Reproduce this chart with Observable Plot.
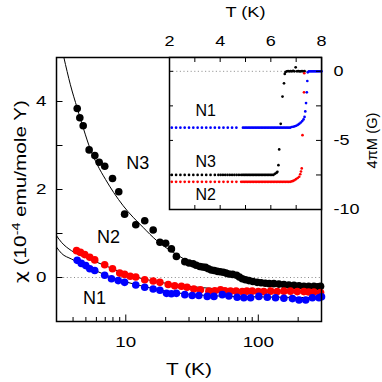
<!DOCTYPE html>
<html><head><meta charset="utf-8">
<script src="https://cdn.jsdelivr.net/npm/d3@7"></script>
<script src="https://cdn.jsdelivr.net/npm/@observablehq/plot@0.6"></script>
<style>
html,body{margin:0;padding:0;background:#fff;}
#wrap{position:relative;width:382px;height:382px;}
#wrap svg{position:absolute;left:0;top:0;}
</style></head><body><div id="wrap"></div>
<script>
// ---------- main panel: susceptibility chi (1e-4 emu/mole Y) vs T (K), log x ----------
const n3T   = [4.3,4.5,4.77,5.29,5.84,6.3,6.94,7.94,8.85,9.8,11.9,13.9,16.1,18.1,20.0,22.1,24.1,27.9,30,32.2,34,36.2,38,40,42,44.2,46.5,49,51.5,54.4,57,60,64,68.6,72,75.7,80,85,91,98,105,113,121,131,143,156,170,186,203,221,240,263,280,295];
const n3Chi = [3.84,3.63,3.45,2.90,2.77,2.62,2.53,2.25,1.95,1.44,1.20,1.29,1.08,0.80,0.78,0.65,0.48,0.36,0.33,0.31,0.28,0.25,0.24,0.23,0.20,0.17,0.16,0.14,0.13,0.12,0.10,0.08,0.07,0.05,0.01,-0.03,-0.05,-0.07,-0.09,-0.11,-0.12,-0.13,-0.14,-0.14,-0.15,-0.16,-0.17,-0.18,-0.19,-0.20,-0.20,-0.20,-0.21,-0.20];
const n2T   = [4.25,4.55,4.9,5.35,5.83,6.93,7.94,9.0,9.8,10.8,11.9,13.9,16.1,18.1,20.9,23.4,26.3,29,32.6,36.6,42.4,47,51.9,56,61.7,68,75.7,82,90,100,110,124,139,156,175,197,221,240,263,295];
const n2Chi = [0.61,0.57,0.52,0.46,0.40,0.29,0.20,0.10,0.07,0.03,0.01,-0.05,-0.08,-0.11,-0.16,-0.19,-0.20,-0.22,-0.26,-0.28,-0.31,-0.30,-0.28,-0.30,-0.31,-0.31,-0.32,-0.31,-0.31,-0.32,-0.32,-0.31,-0.32,-0.31,-0.31,-0.32,-0.32,-0.33,-0.33,-0.34];
const n1T   = [4.3,4.62,4.99,5.35,5.83,6.93,7.8,8.77,9.8,11.9,13.9,16.1,18.1,20.3,22.1,24.1,27.9,31.7,35.6,41.2,46.3,53.5,60,69.3,77.8,87.5,101,117,135,156,181,203,228,256,287,300];
const n1Chi = [0.39,0.32,0.27,0.20,0.16,0.05,-0.03,-0.07,-0.11,-0.17,-0.22,-0.26,-0.29,-0.36,-0.37,-0.36,-0.39,-0.41,-0.41,-0.43,-0.43,-0.39,-0.42,-0.45,-0.46,-0.46,-0.43,-0.45,-0.46,-0.47,-0.48,-0.51,-0.51,-0.46,-0.46,-0.44];
// fitted curves
const n3FitT = [3.41,3.82,4.3,4.82,5.41,6.08,7.03,8.11,9.56,13.5,17.1,22.8,28.7,40,60,100,200,300];
const n3FitY = [5.0,4.38,3.85,3.36,2.91,2.57,2.23,1.93,1.63,1.14,0.84,0.57,0.39,0.20,0.05,-0.07,-0.17,-0.20];
const n2FitT = [3,3.27,3.89,5,7,10,15,20,30,50,100,300];
const n2FitY = [0.95,0.80,0.61,0.45,0.27,0.08,-0.06,-0.13,-0.20,-0.26,-0.30,-0.33];
const n1FitT = [3,3.27,3.89,5,7,10,15,20,30,50,100,300];
const n1FitY = [0.69,0.55,0.42,0.26,0.06,-0.10,-0.23,-0.31,-0.38,-0.42,-0.44,-0.46];
const mainXTicksMajor = [10,100];
const mainXTicksMinor = [4,5,6,7,8,9,20,30,40,50,60,70,80,90,200];
const mainYTicks = [-1,0,1,2,3,4];
const mainYLabels = [0,2,4];
const mainNames = ["N3","N2","N1"];
const mainNameT = [12.3,7.4,5.8];
const mainNameY = [2.6,0.92,-0.47];

// ---------- inset: 4πM (G) vs T (K) ----------
const sweepSparse = [2.09,2.26,2.43,2.60,2.77,2.94,3.11,3.28,3.45,3.62,3.79,3.96,4.13,4.30,4.47,4.64,4.81];
const sweepDense  = [3.93,4.02,4.11,4.20,4.29,4.38,4.47,4.56,4.65,4.74,4.83,4.90,4.96,5.02,5.08,5.14,5.20,5.26,5.32,5.38,5.44,5.50,5.56,5.62,5.68,5.74,5.80,5.86,5.92,5.98,6.04,6.10,6.16,6.22,6.28,6.34,6.40,6.46,6.52,6.58,6.64,6.70,6.76];
// per series: flat level, sparse upper limit, dense range, and the transition tail
const n1Flat = -4.08, n1SparseMax = 4.65, n1Dense = [4.88, 6.76];
const n1TailT = [6.82,6.88,6.94,7.0,7.06,7.12,7.18,7.24,7.29,7.33,7.36,7.39,7.42,7.44,7.46,7.50,7.55,7.60,7.65,7.70,7.75,7.80,7.85,7.90,7.95,8.0];
const n1TailM = [-4.03,-4.01,-3.98,-3.94,-3.88,-3.81,-3.71,-3.6,-3.48,-3.3,-2.9,-2.3,-1.52,-0.7,-0.07,0,0,0,0,0,0,0,0,0,0,0];
const n3Flat = -7.5, n3SparseMax = 3.8, n3Dense = [3.9, 6.11];
const n3TailT = [6.16,6.22,6.26,6.30,6.33,6.39,6.46,6.52,6.55,6.58,6.63,6.68,6.73,6.78,6.83,6.88,6.93,6.98,7.03,7.08,7.13,7.18,7.23,7.28,7.33];
const n3TailM = [-7.42,-7.35,-7.27,-6.79,-5.65,-3.8,-1.83,-0.87,-0.19,-0.05,0,0.02,0,0.02,0,0.03,0,0.29,0,0.02,0,0,0.02,0,0.01];
const n2Flat = -8.0, n2SparseMax = 4.75, n2Dense = [4.8, 6.76];
const n2TailT = [6.82,6.88,6.94,7.0,7.06,7.12,7.16,7.19,7.22,7.25,7.31,7.32];
const n2TailM = [-7.97,-7.93,-7.87,-7.8,-7.72,-7.63,-7.45,-7.25,-7.03,-4.62,-1.52,-0.14];
const insetXTicks = [2,3,4,5,6,7,8];
const insetXLabels = [2,4,6,8];
const insetYTicks = [0,-2.5,-5,-7.5];
const insetYLabels = [0,-5,-10];
const insetNames = ["N1","N3","N2"];
const insetNameT = [3.43,3.43,3.43];
const insetNameM = [-2.87,-6.55,-8.95];

// ---------- build tables ----------
const zip = (xs, ys) => xs.map((x, i) => ({x, y: ys[i]}));
const mainN3 = zip(n3T, n3Chi), mainN2 = zip(n2T, n2Chi), mainN1 = zip(n1T, n1Chi);
const fit3 = zip(n3FitT, n3FitY), fit2 = zip(n2FitT, n2FitY), fit1 = zip(n1FitT, n1FitY);
const mainLab = mainNames.map((n, i) => ({n, x: mainNameT[i], y: mainNameY[i]}));
function sweep(flat, sparseMax, dense, tailT, tailM) {
  const pts = [];
  sweepSparse.filter(t => t <= sparseMax).forEach(t => pts.push({x: t, y: flat}));
  sweepDense.filter(t => t >= dense[0] && t <= dense[1]).forEach(t => pts.push({x: t, y: flat}));
  tailT.forEach((t, i) => pts.push({x: t, y: tailM[i]}));
  return pts;
}
const inN1 = sweep(n1Flat, n1SparseMax, n1Dense, n1TailT, n1TailM);
const inN3 = sweep(n3Flat, n3SparseMax, n3Dense, n3TailT, n3TailM);
const inN2 = sweep(n2Flat, n2SparseMax, n2Dense, n2TailT, n2TailM);
const inLab = insetNames.map((n, i) => ({n, x: insetNameT[i], y: insetNameM[i]}));

const FONT = "'Liberation Sans', Arial, Helvetica, sans-serif";
const hy = d => (d < 0 ? "-" + (-d) : String(d));
const C = {textAnchor: "middle", lineAnchor: "middle", fill: "black"};

// ---------- main plot ----------
const W = 382, H = 382;
const mL = 56, mR = 61, mT = 57, mB = 61;
const pw = W - mL - mR, ph = H - mT - mB;
const main = Plot.plot({
  width: W, height: H, marginLeft: mL, marginRight: mR, marginTop: mT, marginBottom: mB,
  style: {background: "transparent", fontFamily: FONT, fontSize: "15px", color: "black"},
  x: {type: "log", domain: [3, 300]},
  y: {domain: [-1, 5]},
  marks: [
    Plot.ruleY([0], {stroke: "#888", strokeWidth: 1, strokeDasharray: "1,2.6"}),
    Plot.line(fit3, {x: "x", y: "y", curve: "monotone-x", stroke: "black", strokeWidth: 1, clip: true}),
    Plot.line(fit2, {x: "x", y: "y", curve: "monotone-x", stroke: "black", strokeWidth: 1, clip: true}),
    Plot.line(fit1, {x: "x", y: "y", curve: "monotone-x", stroke: "black", strokeWidth: 1, clip: true}),
    Plot.dot(mainN3, {x: "x", y: "y", r: 3.8, fill: "black", stroke: "none"}),
    Plot.dot(mainN2, {x: "x", y: "y", r: 3.8, fill: "#ff0000", stroke: "none"}),
    Plot.dot(mainN1, {x: "x", y: "y", r: 3.8, fill: "#0000ff", stroke: "none"}),
    Plot.tickX(mainXTicksMajor, {x: d => d, insetTop: ph - 6.5, stroke: "black", strokeWidth: 1}),
    Plot.tickX(mainXTicksMinor, {x: d => d, insetTop: ph - 4, stroke: "black", strokeWidth: 1}),
    Plot.tickY(mainYTicks, {y: d => d, insetRight: pw - 6.5, stroke: "black", strokeWidth: 1}),
    Plot.frame({stroke: "black", strokeWidth: 1.5}),
    Plot.axisX({ticks: mainXTicksMajor, tickSize: 0, tickPadding: 15, tickFormat: d => String(d), label: null, fontSize: 15}),
    Plot.axisY({ticks: mainYLabels, tickSize: 0, tickPadding: 10, tickFormat: hy, label: null, fontSize: 15}),
    Plot.text(mainLab, {x: "x", y: "y", text: "n", fontSize: 18, ...C}),
    Plot.text(["T (K)"], {frameAnchor: "bottom", dy: 48, fontSize: 17, ...C, className: "xlab"}),
    Plot.text(["χ"], {frameAnchor: "left", dx: -36, dy: 2, rotate: -90, fontSize: 16, ...C, className: "ylab"})
  ]
});

// ---------- inset plot ----------
const iL = 169, iR = 61, iT = 57, iB = 173;
const iw = W - iL - iR, ih = H - iT - iB;
const inset = Plot.plot({
  width: W, height: H, marginLeft: iL, marginRight: iR, marginTop: iT, marginBottom: iB,
  style: {background: "transparent", fontFamily: FONT, fontSize: "15px", color: "black"},
  x: {domain: [2, 8]},
  y: {domain: [-10, 1]},
  marks: [
    Plot.frame({fill: "white", stroke: "none"}),
    Plot.ruleY([0], {stroke: "#999", strokeWidth: 1, strokeDasharray: "1.2,2.4"}),
    Plot.dot(inN3, {x: "x", y: "y", r: 1.35, fill: "black", stroke: "none"}),
    Plot.dot(inN2, {x: "x", y: "y", r: 1.35, fill: "#ff0000", stroke: "none"}),
    Plot.dot(inN1, {x: "x", y: "y", r: 1.35, fill: "#0000ff", stroke: "none"}),
    Plot.tickX(insetXTicks, {x: d => d, insetBottom: ih - 5, stroke: "black"}),
    Plot.tickX(insetXTicks, {x: d => d, insetTop: ih - 4, stroke: "black"}),
    Plot.tickY(insetYTicks, {y: d => d, insetLeft: iw - 5, stroke: "black"}),
    Plot.tickY(insetYTicks, {y: d => d, insetRight: iw - 4, stroke: "black"}),
    Plot.frame({stroke: "black", strokeWidth: 1.5}),
    Plot.axisX({anchor: "top", ticks: insetXLabels, tickSize: 0, tickPadding: 12, tickFormat: d => String(d), label: null, fontSize: 15}),
    Plot.axisY({anchor: "right", ticks: insetYLabels, tickSize: 0, tickPadding: 12, tickFormat: hy, label: null, fontSize: 15}),
    Plot.text(inLab, {x: "x", y: "y", text: "n", fontSize: 16, ...C}),
    Plot.text(["T (K)"], {frameAnchor: "top", dy: -45, fontSize: 15, ...C, className: "ixlab"}),
    Plot.text(["4πM (G)"], {frameAnchor: "right", dx: 51, dy: 7, rotate: -90, fontSize: 15, ...C, className: "iylab"})
  ]
});

const wrap = document.getElementById("wrap");
wrap.appendChild(main);
wrap.appendChild(inset);

// y label with superscript
const ylab = main.querySelector("g.ylab text");
if (ylab) {
  ylab.textContent = "";
  const ns = "http://www.w3.org/2000/svg";
  const z = document.createElementNS(ns, "tspan"); z.textContent = "χ"; z.setAttribute("font-family", "'DejaVu Sans', sans-serif");
  const a = document.createElementNS(ns, "tspan"); a.textContent = " (10";
  const b = document.createElementNS(ns, "tspan"); b.textContent = "-4"; b.setAttribute("dy", "-6"); b.setAttribute("font-size", "11");
  const c = document.createElementNS(ns, "tspan"); c.textContent = " emu/mole Y)"; c.setAttribute("dy", "6");
  ylab.append(z, a, b, c);
}
function setLen(el, len) {
  if (!el) return;
  el.setAttribute("textLength", len);
  el.setAttribute("lengthAdjust", "spacingAndGlyphs");
}
function stretch(svg, factor) {
  svg.querySelectorAll('g[aria-label$="tick label"] text').forEach(t => {
    setLen(t, t.getComputedTextLength() * factor);
  });
}
stretch(main, 1.25);
stretch(inset, 1.2);
setLen(main.querySelector("g.xlab text"), 46);
setLen(ylab, 183);
setLen(inset.querySelector("g.ixlab text"), 40);
setLen(inset.querySelector("g.iylab text"), 56);
</script></body></html>
